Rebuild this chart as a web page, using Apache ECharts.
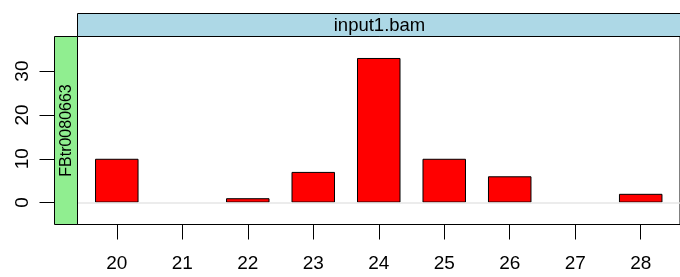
<!DOCTYPE html>
<html>
<head>
<meta charset="utf-8">
<script src="https://cdn.jsdelivr.net/npm/echarts@6/dist/echarts.min.js"></script>
<style>
  html, body { margin: 0; padding: 0; background: #fff; }
  #chart { width: 680px; height: 277px; }
</style>
</head>
<body>
<div id="chart"></div>
<script>
// read lengths and counts
const lengths = [20, 21, 22, 23, 24, 25, 26, 27, 28];
const counts = [10, 0, 1, 7, 33, 10, 6, 0, 2];
const yTicks = [0, 10, 20, 30];
const panelTitle = "input1.bam";
const rowTitle = "FBtr0080663";

const font = "Liberation Sans, Arial, sans-serif";
const chart = echarts.init(document.getElementById("chart"), null, { renderer: "canvas" });

chart.setOption({
  animation: false,
  grid: {
    left: 77.5,
    top: 36.5,
    right: -1,
    bottom: 52.5,
    show: true,
    borderColor: "#000",
    borderWidth: 1,
    backgroundColor: "transparent"
  },
  xAxis: {
    type: "value",
    min: 19.4,
    max: 28.6,
    axisLine: { show: true, onZero: false, lineStyle: { color: "#000", width: 1 } },
    axisTick: { show: true, length: 15, customValues: lengths, lineStyle: { color: "#000", width: 1 } },
    axisLabel: { customValues: lengths, margin: 30, fontSize: 19, color: "#000", fontFamily: font },
    splitLine: { show: false }
  },
  yAxis: {
    type: "value",
    min: -5,
    max: 37.9,
    offset: 23,
    axisLine: { show: false },
    axisTick: { show: true, length: 15, customValues: yTicks, lineStyle: { color: "#000", width: 1 } },
    axisLabel: { customValues: yTicks, rotate: 90, margin: 22, fontSize: 19, color: "#000", fontFamily: font },
    splitLine: { show: false }
  },
  graphic: [
    {
      type: "rect",
      shape: { x: 77.5, y: 13.5, width: 604, height: 23 },
      style: { fill: "#ADD8E6", stroke: "#000", lineWidth: 1 },
      z: 10
    },
    {
      type: "text",
      x: 379.5, y: 25.5,
      style: { text: panelTitle, fontSize: 18.5, fontFamily: font, fill: "#000", align: "center", verticalAlign: "middle" },
      z: 11
    },
    {
      type: "rect",
      shape: { x: 54.5, y: 36.5, width: 23, height: 188 },
      style: { fill: "#90EE90", stroke: "#000", lineWidth: 1 },
      z: 10
    },
    {
      type: "text",
      x: 66.5, y: 130.5,
      rotation: Math.PI / 2,
      style: { text: rowTitle, fontSize: 16, fontFamily: font, fill: "#000", align: "center", verticalAlign: "middle" },
      z: 11
    }
  ],
  series: [
    {
      type: "line",
      data: [],
      z: 1,
      markLine: {
        silent: true,
        symbol: "none",
        label: { show: false },
        lineStyle: { color: "#e6e6e6", width: 1.5, type: "solid" },
        data: [{ yAxis: 0 }]
      }
    },
    {
      type: "bar",
      z: 3,
      barWidth: 43.5,
      data: lengths.map((l, i) => [l, counts[i] === 0 ? "-" : counts[i]]),
      itemStyle: { color: "#FF0000", borderColor: "#000", borderWidth: 1 }
    }
  ]
});
</script>
</body>
</html>
